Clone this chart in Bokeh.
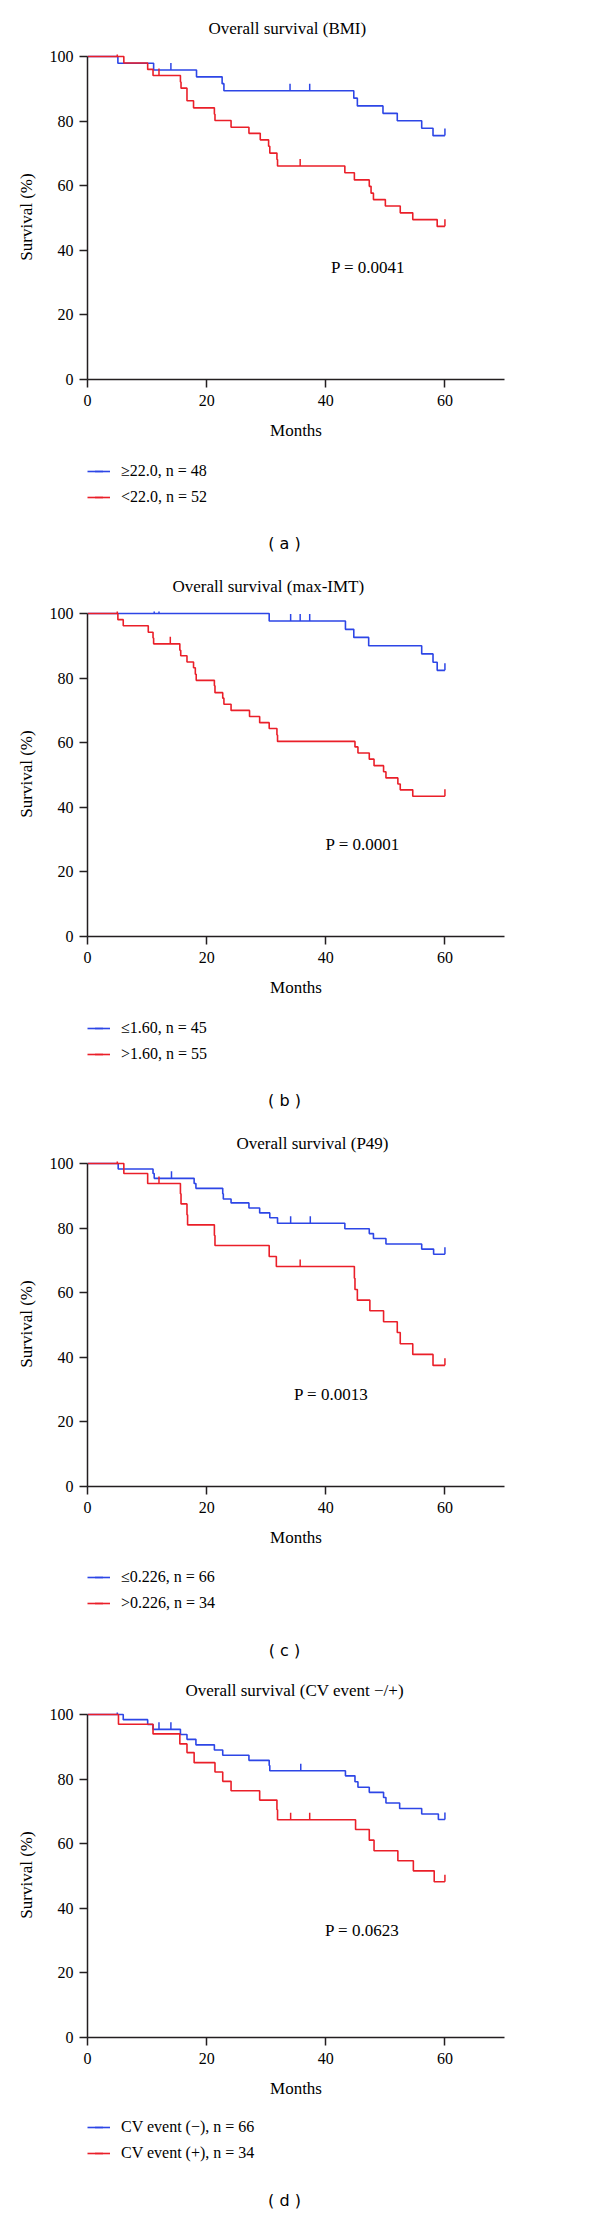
from math import pi, nan
from bokeh.plotting import figure
from bokeh.models import Range1d, FixedTicker, Label, Legend, LegendItem
from bokeh.layouts import column
from bokeh.embed import file_html
from bokeh.resources import INLINE

BLUE = "#2D46E6"
RED = "#EA1F29"
SERIF = "Liberation Serif"
AXIS_COLOR = "#231f20"

# ---------------- data (months, survival %) ----------------
# (a) BMI
a_blue_t = [0, 5.1, 11.1, 18.3, 22.6, 22.9, 44.7, 45.3, 49.6, 52.0, 56.1, 58.0, 60]
a_blue_s = [100, 97.9, 95.8, 93.7, 91.6, 89.4, 87.1, 84.7, 82.4, 80.1, 77.8, 75.5, 75.5]
a_blue_ct = [14.0, 34.0, 37.3, 60]
a_blue_cs = [95.8, 89.4, 89.4, 75.5]
a_red_t = [0, 6.1, 10.1, 11.0, 15.6, 15.7, 16.7, 17.8, 21.3, 21.4, 24.1, 27.1, 29.0, 30.4,
           30.6, 31.8, 31.9, 43.2, 44.8, 47.3, 47.6, 48.0, 50.0, 52.5, 54.6, 58.7, 60]
a_red_s = [100, 98.0, 96.0, 94.1, 92.1, 90.2, 86.3, 84.1, 82.1, 80.2, 78.1, 76.2, 74.2, 72.2,
           70.1, 68.1, 66.1, 64.0, 61.8, 59.8, 57.7, 55.7, 53.7, 51.6, 49.5, 47.4, 47.4]
a_red_ct = [5.0, 12.0, 35.7, 60]
a_red_cs = [100, 94.1, 66.1, 47.4]

# (b) max-IMT
b_blue_t = [0, 30.5, 43.3, 44.7, 47.2, 56.1, 58.0, 58.7, 60]
b_blue_s = [100, 97.7, 95.1, 92.6, 90.0, 87.5, 84.9, 82.4, 82.4]
b_blue_ct = [11.2, 12.0, 34.1, 35.7, 37.3, 60]
b_blue_cs = [100, 100, 97.7, 97.7, 97.7, 82.4]
b_red_t = [0, 5.1, 6.0, 10.2, 11.0, 11.1, 15.5, 15.65, 16.7, 17.8, 18.1, 18.25, 21.3, 21.4,
           22.7, 22.9, 24.1, 27.2, 28.9, 30.5, 31.8, 31.9, 44.9, 45.4, 47.3, 48.1, 49.7, 50.1,
           52.1, 52.5, 54.6, 60]
b_red_s = [100, 98.1, 96.2, 94.2, 92.4, 90.6, 88.6, 86.9, 85.0, 83.2, 81.2, 79.3, 77.6, 75.5,
           73.8, 71.9, 70.0, 68.1, 66.2, 64.4, 62.4, 60.4, 58.7, 56.8, 54.9, 52.9, 51.0, 49.1,
           47.2, 45.4, 43.4, 43.4]
b_red_ct = [5.0, 13.9, 60]
b_red_cs = [100, 90.6, 43.4]

# (c) P49
c_blue_t = [0, 5.15, 11.0, 11.2, 17.9, 18.2, 22.7, 22.8, 24.1, 27.1, 28.9, 30.6, 31.9, 43.2,
            47.3, 48.0, 50.1, 56.1, 58.1, 60]
c_blue_s = [100, 98.3, 96.9, 95.4, 93.8, 92.3, 90.6, 89.0, 87.8, 86.2, 84.7, 83.2, 81.5, 79.8,
            78.3, 76.8, 75.1, 73.5, 71.9, 71.9]
c_blue_ct = [14.1, 34.1, 37.4, 60]
c_blue_cs = [95.4, 81.5, 81.5, 71.9]
c_red_t = [0, 6.1, 10.1, 15.6, 15.7, 16.7, 16.8, 21.3, 21.4, 30.5, 31.7, 44.8, 44.9, 45.3,
           47.4, 49.7, 52.0, 52.5, 54.6, 58.0, 60]
c_red_s = [100, 96.9, 93.8, 90.6, 87.5, 84.1, 81.0, 77.7, 74.6, 71.2, 68.1, 64.5, 61.0, 57.7,
           54.4, 51.0, 47.7, 44.2, 40.9, 37.5, 37.5]
c_red_ct = [5.0, 12.0, 35.7, 60]
c_red_cs = [100, 93.8, 68.1, 37.5]

# (d) CV event
d_blue_t = [0, 6.0, 10.1, 11.0, 15.6, 16.7, 18.2, 21.3, 22.7, 27.1, 30.5, 30.6, 43.3, 44.9,
            45.4, 47.3, 49.7, 50.1, 52.4, 56.1, 58.9, 60]
d_blue_s = [100, 98.4, 96.9, 95.4, 93.8, 92.3, 90.6, 89.0, 87.4, 85.8, 84.2, 82.6, 81.0, 79.2,
            77.5, 75.9, 74.3, 72.6, 70.9, 69.2, 67.5, 67.5]
d_blue_ct = [5.0, 12.0, 14.0, 35.8, 60]
d_blue_cs = [100, 95.4, 95.4, 82.6, 67.5]
d_red_t = [0, 5.2, 11.0, 15.5, 16.7, 17.9, 21.4, 22.7, 24.1, 28.9, 31.8, 31.9, 45.0, 47.3,
           48.1, 52.1, 54.7, 58.2, 60]
d_red_s = [100, 97.0, 94.0, 90.9, 88.2, 85.1, 82.2, 79.3, 76.4, 73.5, 70.5, 67.4, 64.4, 61.1,
           57.8, 54.7, 51.6, 48.2, 48.2]
d_red_ct = [34.1, 37.3, 60]
d_red_cs = [67.4, 67.4, 48.2]

titles = ["Overall survival (BMI)", "Overall survival (max-IMT)",
          "Overall survival (P49)", "Overall survival (CV event \u2212/+)"]
p_values = ["P = 0.0041", "P = 0.0001", "P = 0.0013", "P = 0.0623"]
blue_labels = ["\u226522.0, n = 48", "\u22641.60, n = 45", "\u22640.226, n = 66",
               "CV event (\u2212), n = 66"]
red_labels = ["<22.0, n = 52", ">1.60, n = 55", ">0.226, n = 34", "CV event (+), n = 34"]
tags = ["( a )", "( b )", "( c )", "( d )"]
x_ticks = [0, 20, 40, 60]
y_ticks = [0, 20, 40, 60, 80, 100]

# ---------------- layout / style per panel ----------------
W = 600
PX_PER_PCT = 3.23
FRAME_H = 325                       # a little headroom above 100 % so the top line is not clipped
Y_END = FRAME_H / PX_PER_PCT
BORDER_L, BORDER_R, BORDER_B = 87, 96, 66
TITLE_H = 19
title_dist = [26, 25, 18, 22]       # title centre above the frame top, px
border_top = [2 + 2 * d for d in title_dist]
title_standoff = [2 * d - TITLE_H for d in title_dist]
title_offset = [121, 85, 149, 98]
pval_pos = [(47.1, 34.7), (46.2, 28.5), (40.9, 28.6), (46.1, 33.1)]
aux_height = [114, 121, 114, 111]
legend_row1 = [26, 26, 25, 24]      # px from top of the strip below each chart
caption_y = [98, 98, 98, 97]
CAPTION_X = 197                     # px from the left edge of the plot frame
CENSOR_OFFSET = 1.1


def style_axis(ax, ticks, standoff):
    ax.ticker = FixedTicker(ticks=ticks)
    ax.axis_line_color = AXIS_COLOR
    ax.axis_line_width = 1.5
    ax.major_tick_line_color = AXIS_COLOR
    ax.major_tick_line_width = 1.5
    ax.major_tick_in = 0
    ax.major_tick_out = 8
    ax.minor_tick_line_color = None
    ax.major_label_text_font = SERIF
    ax.major_label_text_font_size = "16px"
    ax.major_label_text_color = "black"
    ax.major_label_standoff = standoff
    ax.axis_label_text_font = SERIF
    ax.axis_label_text_font_size = "17px"
    ax.axis_label_text_font_style = "normal"
    ax.axis_label_text_color = "black"


def make_chart(i, blue, red):
    p = figure(width=W, height=border_top[i] + FRAME_H + BORDER_B,
               output_backend="svg", toolbar_location=None,
               x_range=Range1d(0, 70), y_range=Range1d(0, Y_END),
               min_border_left=BORDER_L, min_border_right=BORDER_R,
               min_border_top=border_top[i], min_border_bottom=BORDER_B)
    p.outline_line_color = None
    p.xgrid.visible = False
    p.ygrid.visible = False
    p.background_fill_color = "white"
    p.border_fill_color = "white"

    p.title.text = titles[i]
    p.title.align = "left"
    p.title.offset = title_offset[i]
    p.title.standoff = title_standoff[i]
    p.title.vertical_align = "bottom"
    p.title.text_font = SERIF
    p.title.text_font_size = "17px"
    p.title.text_font_style = "normal"
    p.title.text_color = "black"

    style_axis(p.xaxis[0], x_ticks, 7)
    style_axis(p.yaxis[0], y_ticks, 6)
    p.yaxis[0].bounds = (0, 100)
    p.xaxis[0].axis_label = "Months"
    p.xaxis[0].axis_label_standoff = 12
    p.yaxis[0].axis_label = "Survival (%)"
    p.yaxis[0].axis_label_standoff = 11

    for (t, s, ct, cs), color in ((blue, BLUE), (red, RED)):
        p.step(t, s, mode="after", line_color=color, line_width=1.6)
        p.scatter(ct, [v + CENSOR_OFFSET for v in cs], marker="dash", angle=pi / 2,
                  size=7, line_color=color, line_width=1.5)

    px, py = pval_pos[i]
    p.add_layout(Label(x=px, y=py, text=p_values[i], text_align="center",
                       text_baseline="middle", text_font=SERIF, text_font_size="17px",
                       text_color="black"))
    return p


def make_key(i):
    h = aux_height[i]
    q = figure(width=W, height=h, output_backend="svg", toolbar_location=None,
               x_range=Range1d(0, 70), y_range=Range1d(0, 100),
               x_axis_location=None, y_axis_location=None,
               min_border_left=BORDER_L, min_border_right=BORDER_R,
               min_border_top=0, min_border_bottom=0)
    q.outline_line_color = None
    q.grid.visible = False
    q.background_fill_color = "white"
    q.border_fill_color = "white"

    items = []
    for color, lab in ((BLUE, blue_labels[i]), (RED, red_labels[i])):
        # legend proxies: a single undefined point, so nothing is drawn in the strip
        r_line = q.step([nan], [nan], mode="after", line_color=color, line_width=1.6)
        r_c = q.scatter([nan], [nan], marker="dash", angle=pi / 2, size=7,
                        line_color=color, line_width=1.5)
        items.append(LegendItem(label=lab, renderers=[r_line, r_c]))
    legend_h = 20 + 6 + 20
    legend = Legend(items=items, location=(0, h - (legend_row1[i] - 10) - legend_h),
                    orientation="vertical", glyph_width=23, glyph_height=20,
                    label_height=20, spacing=6, label_standoff=11, padding=0, margin=0,
                    border_line_color=None, background_fill_alpha=0,
                    label_text_font=SERIF, label_text_font_size="16px",
                    label_text_color="black")
    q.add_layout(legend, "center")
    q.add_layout(Label(x=CAPTION_X, y=h - caption_y[i], x_units="screen", y_units="screen",
                       text=tags[i], text_align="center", text_baseline="middle",
                       text_font="DejaVu Sans", text_font_size="16px", text_color="black"))
    return q


series = [
    ((a_blue_t, a_blue_s, a_blue_ct, a_blue_cs), (a_red_t, a_red_s, a_red_ct, a_red_cs)),
    ((b_blue_t, b_blue_s, b_blue_ct, b_blue_cs), (b_red_t, b_red_s, b_red_ct, b_red_cs)),
    ((c_blue_t, c_blue_s, c_blue_ct, c_blue_cs), (c_red_t, c_red_s, c_red_ct, c_red_cs)),
    ((d_blue_t, d_blue_s, d_blue_ct, d_blue_cs), (d_red_t, d_red_s, d_red_ct, d_red_cs)),
]

children = []
for i, (blue, red) in enumerate(series):
    children.append(make_chart(i, blue, red))
    children.append(make_key(i))

layout = column(*children, spacing=0)
open("out.html", "w").write(file_html(layout, INLINE))
